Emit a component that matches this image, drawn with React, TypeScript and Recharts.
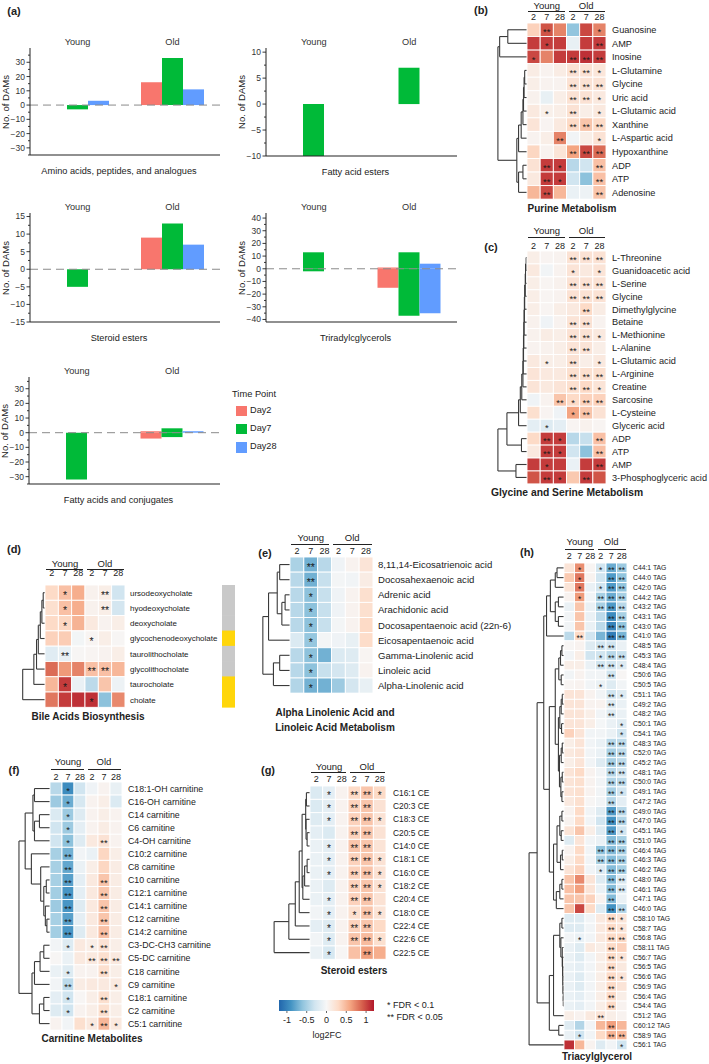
import React from 'react';
import { BarChart, Bar, XAxis, YAxis, ReferenceLine, ScatterChart, Scatter } from 'recharts';

const FONT = '"Liberation Sans", Arial, Helvetica, sans-serif';
const INK = '#222';

// ---------- (a) number of DAMs; order: Young d2, d7, d28, Old d2, d7, d28
const ageGroups = ['Young', 'Old'];
const timePoints = ['Day2', 'Day7', 'Day28'];
const dayKeys = ['2', '7', '28'];
const dayColors = ['#F8766D', '#00BA38', '#619CFF'];

const aminoUp = [0, 0, 3, 16, 33, 11];
const aminoDown = [0, -3, 0, 0, 0, 0];
const faEsterUp = [0, 0, 0, 0, 7, 0];
const faEsterDown = [0, -10, 0, 0, 0, 0];
const steroidUp = [0, 0, 0, 9, 13, 7];
const steroidDown = [0, -5, 0, 0, 0, 0];
const triUp = [0, 13, 0, 1, 13, 4];
const triDown = [0, -2, 0, -15, -37, -35];
const faConjUp = [0, 0, 0, 1, 3, 1];
const faConjDown = [0, -32, 0, -4, -3, 0];

const ticks35 = [-35, -30, -25, -20, -15, -10, -5, 0, 5, 10, 15, 20, 25, 30, 35];
const ticks10 = [-10, -7.5, -5, -2.5, 0, 2.5, 5, 7.5, 10];
const ticks15 = [-15, -12.5, -10, -7.5, -5, -2.5, 0, 2.5, 5, 7.5, 10, 12.5, 15];
const ticks40 = [-40, -35, -30, -25, -20, -15, -10, -5, 0, 5, 10, 15, 20, 25, 30, 35, 40];

// ---------- heatmaps (log2FC, columns Young 2/7/28, Old 2/7/28); sig: 1 = *, 2 = **
const dayLabels = ['2', '7', '28', '2', '7', '28'];
const colTicks = [0.5, 1.5, 2.5, 3.5, 4.5, 5.5];

type Tree = number | [number, Tree, Tree];

const purineRows = ['Guanosine', 'AMP', 'Inosine', 'L-Glutamine', 'Glycine', 'Uric acid', 'L-Glutamic acid', 'Xanthine', 'L-Aspartic acid', 'Hypoxanthine', 'ADP', 'ATP', 'Adenosine'];
const purineFC = [
  [0.35, 0.95, 0.75, -0.6, 1.0, 0.75],
  [1.05, 1.05, 1.05, -0.12, 1.05, 1.05],
  [1.0, 0.75, 1.05, 1.05, 1.1, 1.05],
  [0.12, 0.05, 0.12, 0.22, 0.22, 0.18],
  [0.1, 0.05, 0.05, 0.22, 0.22, 0.22],
  [0.06, -0.12, 0.1, 0.22, 0.22, 0.15],
  [0.15, 0.08, 0.1, 0.22, 0.1, 0.15],
  [0.2, 0.04, 0.15, 0.3, 0.42, 0.3],
  [0.05, 0.1, 0.75, -0.05, 0.1, 0.22],
  [0.32, 0.05, 0.2, 0.6, 1.0, 0.85],
  [0.22, 1.05, 1.05, -0.42, -0.3, 0.45],
  [0.15, 1.05, 1.05, -0.3, -0.62, 0.45],
  [0.5, 1.0, 0.5, -0.1, -0.08, 0.42],
];
const purineSig = ['020001', '010002', '100222', '000221', '000222', '000221', '010201', '000222', '002001', '000222', '021002', '021002', '020002'];
const purineTree: Tree = [1.0, [0.94, [0.66, 0, 1], 2], [0.35, [0.29, [0.2, [0.14, [0.12, [0.1, [0.08, 3, 4], 5], 6], 7], 8], 9], [0.29, [0.14, 10, 11], 12]]];

const glyRows = ['L-Threonine', 'Guanidoacetic acid', 'L-Serine', 'Glycine', 'Dimethylglycine', 'Betaine', 'L-Methionine', 'L-Alanine', 'L-Glutamic acid', 'L-Arginine', 'Creatine', 'Sarcosine', 'L-Cysteine', 'Glyceric acid', 'ADP', 'ATP', 'AMP', '3-Phosphoglyceric acid'];
const glyFC = [
  [0.1, 0.04, 0.05, 0.22, 0.22, 0.22],
  [0.15, -0.05, 0.05, 0.2, 0.15, 0.2],
  [0.1, 0.03, 0.06, 0.22, 0.22, 0.22],
  [0.1, 0.03, 0.05, 0.22, 0.22, 0.22],
  [0.1, 0.03, 0.1, 0.15, 0.3, 0.12],
  [0.06, -0.06, 0.05, 0.2, 0.22, 0.05],
  [0.06, 0.12, 0.1, 0.22, 0.22, 0.15],
  [0.05, 0.06, 0.1, 0.2, 0.2, 0.1],
  [0.15, 0.1, 0.1, 0.22, 0.1, 0.15],
  [0.2, 0.15, 0.15, 0.25, 0.25, 0.25],
  [0.2, 0.15, 0.2, 0.25, 0.3, 0.2],
  [-0.06, 0.05, 0.42, 0.3, 0.35, 0.35],
  [0.25, 0.04, -0.06, 0.6, 0.42, 0.22],
  [-0.15, -0.2, -0.15, 0.03, 0.06, 0.03],
  [0.3, 1.05, 1.05, -0.42, -0.35, 0.45],
  [0.15, 1.05, 1.05, -0.3, -0.62, 0.45],
  [1.05, 1.05, 1.05, -0.1, 1.05, 1.05],
  [0.95, 1.05, 1.05, 0.4, 1.05, 0.95],
];
const glySig = ['000222', '000101', '000222', '000222', '000020', '000220', '000221', '000220', '010201', '000222', '000221', '002122', '000120', '010000', '021002', '021002', '010002', '021020'];
const glyTree: Tree = [1.0, [0.69, [0.29, [0.23, [0.18, [0.14, [0.13, [0.12, [0.11, [0.1, [0.09, [0.08, [0.06, [0.05, [0.03, 0, 1], 2], 3], 4], 5], 6], 7], 8], 9], 10], 11], 12], 13], [0.19, 14, 15]], [0.38, 16, 17]];

const bileRows = ['ursodeoxycholate', 'hyodeoxycholate', 'deoxycholate', 'glycochenodeoxycholate', 'taurolithocholate', 'glycolithocholate', 'taurocholate', 'cholate'];
const bileFC = [
  [0.3, 0.45, 0.55, 0.06, 0.1, -0.3],
  [0.25, 0.45, 0.55, 0.06, 0.1, -0.28],
  [0.3, 0.32, 0.52, 0.15, 0.05, 0.1],
  [0.35, 0.38, -0.04, 0.03, 0.1, 0.02],
  [-0.18, -0.12, 0.02, 0.03, 0.05, 0.1],
  [0.85, 0.65, 0.75, 0.45, 0.45, 0.5],
  [0.5, 1.05, -0.1, -0.4, 0.42, -0.08],
  [0.8, 1.05, 1.1, 1.1, -0.62, 0.72],
];
const bileSig = ['010020', '010020', '010000', '000100', '020000', '000220', '010000', '000100'];
const bileClass = ['grey', 'grey', 'grey', 'yellow', 'grey', 'grey', 'yellow', 'yellow'];
const bileTree: Tree = [1.0, [0.5, [0.38, [0.3, [0.21, [0.14, [0.08, 0, 1], 2], 3], 4], 5], 6], 7];

const linRows = ['8,11,14-Eicosatrienoic acid', 'Docosahexaenoic acid', 'Adrenic acid', 'Arachidonic acid', 'Docosapentaenoic acid (22n-6)', 'Eicosapentaenoic acid', 'Gamma-Linolenic acid', 'Linoleic acid', 'Alpha-Linolenic acid'];
const linFC = [
  [-0.48, -0.72, -0.42, -0.06, 0.05, 0.2],
  [-0.42, -0.72, -0.35, -0.03, -0.05, 0.12],
  [-0.42, -0.62, -0.35, -0.06, 0.05, 0.25],
  [-0.42, -0.62, -0.35, -0.06, 0.05, 0.25],
  [-0.42, -0.62, -0.35, -0.03, 0.05, 0.3],
  [-0.22, -0.58, -0.03, -0.06, -0.12, 0.28],
  [-0.42, -0.62, -0.72, -0.22, -0.2, 0.03],
  [-0.42, -0.62, -0.35, -0.28, -0.2, 0.05],
  [-0.45, -0.72, -0.72, -0.55, -0.28, -0.12],
];
const linSig = ['020000', '020000', '010000', '010000', '010000', '010000', '010000', '010000', '010000'];
const linTree: Tree = [1.0, [0.79, [0.47, [0.38, 0, 1], [0.3, [0.18, 2, 3], 4]], 5], [0.61, [0.38, 6, 7], 8]];

const carRows = ['C18:1-OH carnitine', 'C16-OH carnitine', 'C14 carnitine', 'C6 carnitine', 'C4-OH carnitine', 'C10:2 carnitine', 'C8 carnitine', 'C10 carnitine', 'C12:1 carnitine', 'C14:1 carnitine', 'C12 carnitine', 'C14:2 carnitine', 'C3-DC-CH3 carnitine', 'C5-DC carnitine', 'C18 carnitine', 'C9 carnitine', 'C18:1 carnitine', 'C2 carnitine', 'C5:1 carnitine'];
const carFC = [
  [-0.42, -0.95, -0.3, -0.06, 0.05, -0.12],
  [-0.55, -0.75, -0.25, 0.05, 0.1, -0.22],
  [-0.22, -0.55, -0.2, 0.05, 0.1, 0.05],
  [-0.3, -0.55, -0.15, 0.05, 0.12, 0.05],
  [-0.3, -0.62, -0.2, 0.15, 0.22, 0.05],
  [-0.5, -0.72, -0.05, -0.1, 0.32, 0.1],
  [-0.5, -0.78, -0.1, 0.1, 0.32, 0.12],
  [-0.5, -0.82, -0.15, 0.15, 0.42, 0.12],
  [-0.52, -0.88, -0.15, 0.15, 0.42, 0.12],
  [-0.55, -0.88, -0.2, 0.15, 0.42, 0.12],
  [-0.5, -0.82, -0.15, 0.15, 0.42, 0.12],
  [-0.52, -0.88, -0.2, 0.15, 0.45, 0.12],
  [-0.05, -0.2, 0.15, 0.1, 0.22, 0.1],
  [0.02, -0.1, 0.15, 0.15, 0.25, 0.15],
  [-0.1, -0.2, 0.05, 0.05, 0.25, 0.1],
  [-0.05, -0.4, 0.12, 0.15, 0.15, 0.15],
  [-0.15, -0.3, 0.02, 0.1, 0.25, 0.1],
  [-0.2, -0.3, 0.05, 0.1, 0.25, 0.1],
  [0.05, -0.05, 0.25, 0.15, 0.5, 0.15],
];
const carSig = ['010000', '010000', '010000', '010000', '010020', '020000', '020000', '020020', '020020', '020020', '020020', '020020', '010120', '000222', '010020', '020001', '010020', '010020', '000121'];
const carTree: Tree = [1.0,
  [0.8, [0.55, [0.5, 0, 1], [0.5, [0.34, 2, 3], 4]], [0.6, 5, [0.3, 6, [0.2, [0.12, 7, 8], [0.15, 9, [0.1, 10, 11]]]]]],
  [0.58, [0.5, [0.32, [0.2, 12, 13], 14], 15], [0.34, [0.2, 16, 17], 18]]];

const ceRows = ['C16:1 CE', 'C20:3 CE', 'C18:3 CE', 'C20:5 CE', 'C14:0 CE', 'C18:1 CE', 'C16:0 CE', 'C18:2 CE', 'C20:4 CE', 'C18:0 CE', 'C22:4 CE', 'C22:6 CE', 'C22:5 CE'];
const ceFC = [
  [-0.22, -0.15, 0.05, 0.3, 0.42, 0.3],
  [-0.22, -0.15, 0.05, 0.35, 0.42, 0.22],
  [-0.2, -0.15, 0.05, 0.35, 0.42, 0.22],
  [-0.15, -0.22, 0.05, 0.35, 0.42, 0.22],
  [-0.1, -0.15, 0.05, 0.42, 0.42, 0.2],
  [-0.1, -0.15, 0.05, 0.35, 0.42, 0.22],
  [-0.1, -0.15, 0.05, 0.35, 0.42, 0.22],
  [-0.1, -0.2, 0.05, 0.35, 0.42, 0.22],
  [-0.1, -0.15, 0.05, 0.35, 0.42, 0.22],
  [-0.05, -0.15, 0.05, 0.25, 0.42, 0.2],
  [-0.15, -0.2, 0.05, 0.35, 0.42, 0.3],
  [-0.05, -0.2, 0.05, 0.42, 0.48, 0.25],
  [-0.1, -0.25, 0.02, 0.45, 0.62, 0.55],
];
const ceSig = ['010221', '010220', '010221', '000220', '010220', '010221', '010221', '000221', '010220', '010121', '010220', '010221', '010020'];
const ceTree: Tree = [1.0, [0.59, [0.41, [0.3, [0.22, [0.12, [0.1, 0, 1], [0.11, 2, [0.08, 3, 4]]], [0.2, [0.15, [0.08, 5, 6], 7], 8]], 9], 10], 11], 12];

const tagRows = ['C44:1 TAG', 'C44:0 TAG', 'C42:0 TAG', 'C44:2 TAG', 'C43:2 TAG', 'C43:1 TAG', 'C43:0 TAG', 'C41:0 TAG',
  'C48:5 TAG', 'C45:3 TAG', 'C48:4 TAG', 'C50:6 TAG', 'C50:5 TAG', 'C51:1 TAG', 'C49:2 TAG', 'C48:2 TAG', 'C50:1 TAG', 'C54:1 TAG',
  'C48:3 TAG', 'C52:0 TAG', 'C45:2 TAG', 'C48:1 TAG', 'C50:0 TAG', 'C49:1 TAG', 'C47:2 TAG', 'C49:0 TAG', 'C47:0 TAG', 'C45:1 TAG',
  'C51:0 TAG', 'C46:4 TAG', 'C46:3 TAG', 'C46:2 TAG', 'C48:0 TAG', 'C46:1 TAG', 'C47:1 TAG', 'C46:0 TAG', 'C58:10 TAG', 'C58:7 TAG',
  'C56:8 TAG', 'C58:11 TAG', 'C56:7 TAG', 'C56:5 TAG', 'C56:6 TAG', 'C56:9 TAG', 'C56:4 TAG', 'C54:4 TAG', 'C51:2 TAG', 'C60:12 TAG',
  'C58:9 TAG', 'C56:1 TAG'];
const tagFC = [
  [0.2, 0.7, 0.03, -0.3, -0.75, -0.55],
  [0.4, 0.8, 0.05, -0.3, -0.85, -0.6],
  [0.2, 0.8, -0.1, -0.3, -0.85, -0.6],
  [0.05, 0.65, -0.05, -0.5, -0.75, -0.5],
  [-0.1, 0.42, -0.1, -0.5, -0.85, -0.42],
  [-0.05, 0.42, -0.1, -0.4, -0.95, -0.5],
  [-0.05, 0.42, -0.1, -0.4, -1.0, -0.6],
  [-0.4, 0.3, -0.3, -0.7, -1.05, -0.7],
  [0.02, 0.05, -0.2, -0.3, -0.3, -0.1],
  [-0.05, 0.1, -0.3, -0.3, -0.42, -0.35],
  [0.1, 0.1, -0.1, -0.3, -0.3, -0.2],
  [-0.05, 0.05, -0.05, -0.05, -0.3, 0.02],
  [0.03, 0.05, -0.05, -0.1, -0.2, -0.05],
  [0.2, 0.2, 0.05, -0.05, -0.3, -0.2],
  [0.2, 0.2, 0.05, 0.05, -0.2, -0.1],
  [0.2, 0.2, 0.1, -0.05, -0.2, -0.1],
  [0.2, 0.2, 0.1, -0.02, -0.1, -0.2],
  [0.35, 0.2, -0.05, -0.05, -0.1, -0.3],
  [0.1, 0.2, -0.05, -0.1, -0.42, -0.4],
  [0.15, 0.2, -0.05, -0.1, -0.5, -0.4],
  [0.1, 0.2, -0.05, -0.2, -0.5, -0.4],
  [0.2, 0.3, 0.05, -0.05, -0.42, -0.3],
  [0.2, 0.25, 0.05, -0.05, -0.45, -0.4],
  [0.2, 0.25, 0.05, -0.05, -0.5, -0.3],
  [0.15, 0.25, 0.02, -0.05, -0.42, -0.15],
  [0.05, 0.3, -0.05, -0.2, -0.85, -0.42],
  [0.05, 0.3, -0.05, -0.3, -0.9, -0.45],
  [0.2, 0.42, 0.1, -0.2, -0.85, -0.3],
  [-0.2, 0.2, -0.05, -0.1, -0.65, -0.5],
  [0.05, 0.3, -0.05, -0.6, -0.65, -0.5],
  [0.1, 0.3, -0.05, -0.5, -0.65, -0.5],
  [0.2, 0.35, -0.05, -0.2, -0.65, -0.5],
  [0.42, 0.72, 0.2, -0.2, -0.65, -0.22],
  [0.45, 0.62, 0.2, -0.1, -0.65, -0.22],
  [0.42, 0.42, 0.35, 0.05, -0.65, -0.1],
  [0.42, 1.0, 0.3, -0.2, -0.9, -0.42],
  [-0.2, -0.2, -0.05, 0.15, 0.3, 0.2],
  [-0.2, -0.2, -0.05, 0.15, 0.3, 0.2],
  [-0.05, -0.1, -0.05, 0.15, 0.3, 0.3],
  [-0.1, -0.2, 0.15, 0.1, 0.3, 0.35],
  [-0.1, -0.2, -0.05, 0.1, 0.3, 0.2],
  [-0.1, -0.15, -0.05, 0.1, 0.3, 0.15],
  [-0.1, -0.2, -0.05, 0.1, 0.3, 0.2],
  [-0.1, -0.2, -0.05, 0.1, 0.3, 0.2],
  [-0.1, -0.15, -0.05, 0.1, 0.3, 0.1],
  [-0.1, -0.15, -0.05, 0.1, 0.3, 0.05],
  [0.1, 0.05, 0.15, 0.2, 0.1, 0.05],
  [-0.2, -0.45, -0.05, 0.5, 0.62, 0.5],
  [-0.1, -0.3, -0.05, 0.3, 0.52, 0.5],
  [1.1, 0.5, 0.05, -0.2, -0.05, -0.3],
];
const tagSig = ['010122', '010022', '010122', '010222', '000222', '000022', '000022', '020022',
  '000220', '000122', '000221', '000020', '000100', '000021', '000020', '000020', '000001', '000001',
  '000022', '000022', '000022', '000022', '000022', '000021', '000020', '000022', '000022', '000021',
  '000022', '000222', '000222', '000122', '000022', '000022', '000020', '000022', '000021', '000021',
  '010022', '000020', '000021', '000020', '000021', '000020', '000020', '000020', '000200', '000020',
  '010022', '000001'];
const tagTree: Tree = [1.0,
  [0.77,
    [0.58,
      [0.5, [0.39, [0.25, [0.2, 0, 1], 2], [0.25, [0.16, 3, 4], [0.16, 5, 6]]], 7],
      [0.42,
        [0.25, [0.15, [0.1, [0.06, 8, 9], 10], [0.08, 11, 12]],
          [0.16, [0.12, [0.08, [0.05, 13, 14], 15], [0.07, 16, 17]], [0.13, [0.08, [0.05, 18, 19], 20], [0.09, [0.05, 21, 22], [0.06, 23, 24]]]]],
        [0.3, [0.2, [0.12, [0.06, 25, 26], [0.08, 27, 28]], [0.1, [0.05, 29, 30], 31]], [0.22, [0.12, [0.06, 32, 33], 34], 35]]]],
    [0.42, [0.3, [0.12, [0.06, 36, 37], [0.09, 38, [0.05, 39, [0.04, 40, [0.03, 41, [0.03, 42, [0.02, 43, [0.02, 44, 45]]]]]]]], 46], [0.15, 47, 48]]],
  49];

// colour scale (log2FC)
const heatStops = [-1.2, -0.9, -0.6, -0.3, 0, 0.3, 0.6, 0.9, 1.2];
const heatColors = ['#2166AC', '#4393C3', '#92C5DE', '#D1E5F0', '#F7F7F7', '#FDDBC7', '#F4A582', '#D6604D', '#B2182B'];
const legendTicks = [-1, -0.5, 0, 0.5, 1];
const keyBar = [{ x: 0, y: 0.5 }];
const classColors: Record<string, string> = { grey: '#C9C9C9', yellow: '#FFD60A' };

const hex = (c: string) => [1, 3, 5].map((i) => parseInt(c.slice(i, i + 2), 16));
function heat(v: number) {
  const x = Math.max(-1.2, Math.min(1.2, v));
  let i = 0;
  while (i < heatStops.length - 2 && x > heatStops[i + 1]) i++;
  const t = (x - heatStops[i]) / (heatStops[i + 1] - heatStops[i]);
  const a = hex(heatColors[i]);
  const b = hex(heatColors[i + 1]);
  return `rgb(${a.map((c, k) => Math.round(c + (b[k] - c) * t)).join(',')})`;
}

const minus = (v: number) => (v < 0 ? '\u2212' + Math.abs(v) : String(v));

const Txt = ({ x, y, size = 9, bold = false, anchor = 'middle', children }: any) => (
  <div
    style={{
      position: 'absolute', left: x, top: y, whiteSpace: 'nowrap', lineHeight: 1, color: INK,
      fontSize: size, fontWeight: bold ? 700 : 400,
      transform: `translate(${anchor === 'middle' ? '-50%' : '0'}, -50%)`,
    }}
  >
    {children}
  </div>
);

// ---------- bar panel
const damTick = (major: number) => (p: any) => {
  const v = p.payload.value;
  const ax = p.x + 4;
  const isMajor = Math.abs(v % major) < 1e-6;
  return (
    <g>
      <line x1={ax - (isMajor ? 3.5 : 2)} x2={ax} y1={p.y} y2={p.y} stroke={INK} strokeWidth={0.9} />
      {isMajor && (
        <text x={ax - 5} y={p.y} dy="0.35em" textAnchor="end" fontSize={8.5} fill="#333">{minus(v)}</text>
      )}
    </g>
  );
};

function DamChart({ x, y, w, h, domain, ticks, major, up, down, title, dashed = true }: any) {
  const yw = 24;
  const xh = 14;
  const pad = 7;
  const rows = ageGroups.map((g, gi) => {
    const r: any = { g };
    dayKeys.forEach((k, di) => {
      r['u' + k] = up[gi * 3 + di];
      r['n' + k] = down[gi * 3 + di];
    });
    return r;
  });
  return (
    <>
      <div style={{ position: 'absolute', left: x - yw, top: y - xh }}>
        <BarChart width={w + yw} height={h + xh + pad} data={rows} margin={{ top: 0, right: 0, bottom: pad, left: 0 }}
          stackOffset="sign" barGap={0} barCategoryGap={16}>
          <XAxis dataKey="g" orientation="top" height={xh} axisLine={false} tickLine={false} tickSize={0} tickMargin={3}
            tick={{ fontSize: 9.2, fill: '#333' }} />
          <YAxis width={yw} domain={domain} ticks={ticks} interval={0} allowDataOverflow axisLine={{ stroke: INK }}
            tickLine={false} tickSize={3} tickMargin={1} tick={damTick(major)} />
          {dashed && <ReferenceLine y={0} stroke="#8a8a8a" strokeDasharray="8 5" />}
          <ReferenceLine y={domain[0]} stroke={INK} strokeWidth={1.2} />
          {dayKeys.map((k, di) => [
            <Bar key={'u' + k} dataKey={'u' + k} stackId={k} fill={dayColors[di]} isAnimationActive={false} />,
            <Bar key={'n' + k} dataKey={'n' + k} stackId={k} fill={dayColors[di]} isAnimationActive={false} />,
          ])}
        </BarChart>
      </div>
      <Txt x={x - 24} y={y + h / 2} size={9.5}>
        <div style={{ transform: 'rotate(-90deg)' }}>No. of DAMs</div>
      </Txt>
      <Txt x={x + w / 2 - 6} y={y + h + 17} size={9.2}>{title}</Txt>
    </>
  );
}

// ---------- heatmap panel
function layoutTree(t: Tree, scale: number, segs: number[][]): { x: number; y: number } {
  if (typeof t === 'number') return { x: 0, y: t + 0.5 };
  const [hgt, a, b] = t;
  const A = layoutTree(a, scale, segs);
  const B = layoutTree(b, scale, segs);
  const x = -hgt * scale;
  segs.push([A.x, A.y, x, A.y], [B.x, B.y, x, B.y], [x, A.y, x, B.y]);
  return { x, y: (A.y + B.y) / 2 };
}

const cellShape = (cw: number, ch: number, sfs: number) => (p: any) => {
  const { cx, cy, payload } = p;
  return (
    <g>
      <rect x={cx - cw / 2} y={cy - ch / 2} width={cw} height={ch} fill={heat(payload.v)} stroke="#fff" strokeWidth={0.9} />
      {payload.s > 0 && (
        <text x={cx} y={cy + sfs * 0.6} textAnchor="middle" fontSize={sfs} fill="#1a1a1a">{'*'.repeat(payload.s)}</text>
      )}
    </g>
  );
};

const rowTick = (rows: string[], fs: number) => (p: any) => (
  <text x={p.x} y={p.y} dy="0.36em" textAnchor="start" fontSize={fs} fill={INK}>
    {rows[Math.floor(p.payload.value)]}
  </text>
);

function Heatmap({ rows, fc, sig, tree, x0, y0, cw, ch, dw, lw, fs, sfs, gap, numY, grpY, lineY }: any) {
  const n = rows.length;
  const hh = 18;
  const units = dw / cw;
  const cells: any[] = [];
  rows.forEach((_: string, i: number) =>
    fc[i].forEach((v: number, j: number) => cells.push({ x: j + 0.5, y: i + 0.5, v, s: Number(sig[i][j]) })),
  );
  const segs: number[][] = [];
  layoutTree(tree, units * 0.97, segs);
  const numBase = numY + 3.3;
  return (
    <>
      <div style={{ position: 'absolute', left: x0 - dw, top: y0 - hh }}>
        <ScatterChart width={dw + 6 * cw + lw} height={hh + n * ch + 2} margin={{ top: 0, right: 0, bottom: 2, left: 0 }}>
          <XAxis type="number" dataKey="x" orientation="top" height={hh} domain={[-units, 6]} allowDataOverflow
            ticks={colTicks} interval={0} tickFormatter={(v: number) => dayLabels[Math.floor(v)]}
            axisLine={false} tickLine={false} tickSize={0} tickMargin={y0 - numBase} tick={{ fontSize: 9, fill: INK }} />
          <YAxis type="number" dataKey="y" orientation="right" width={lw} domain={[0, n]} reversed allowDataOverflow
            ticks={rows.map((_: string, i: number) => i + 0.5)} interval={0}
            axisLine={false} tickLine={false} tickSize={0} tickMargin={gap} tick={rowTick(rows, fs)} />
          {segs.map((s, i) => (
            <ReferenceLine key={i} segment={[{ x: s[0], y: s[1] }, { x: s[2], y: s[3] }]} stroke="#3a3a3a"
              strokeWidth={1.1} ifOverflow="visible" />
          ))}
          <Scatter data={cells} shape={cellShape(cw, ch, sfs)} isAnimationActive={false} />
        </ScatterChart>
      </div>
      <Txt x={x0 + 1.5 * cw} y={grpY} size={9.5}>Young</Txt>
      <Txt x={x0 + 4.5 * cw} y={grpY} size={9.5}>Old</Txt>
      <div style={{ position: 'absolute', left: x0 + 1, top: lineY, width: 3 * cw - 3, borderTop: `1px solid ${INK}` }} />
      <div style={{ position: 'absolute', left: x0 + 3 * cw + 2, top: lineY, width: 3 * cw - 3, borderTop: `1px solid ${INK}` }} />
    </>
  );
}

function ClassBar({ x, y, w, ch }: any) {
  const data = bileClass.map((c, i) => ({ x: 0.5, y: i + 0.5, c }));
  return (
    <div style={{ position: 'absolute', left: x, top: y }}>
      <ScatterChart width={w} height={ch * bileClass.length} margin={{ top: 0, right: 0, bottom: 0, left: 0 }}>
        <XAxis type="number" dataKey="x" domain={[0, 1]} hide />
        <YAxis type="number" dataKey="y" domain={[0, bileClass.length]} reversed hide />
        <Scatter data={data} isAnimationActive={false}
          shape={(p: any) => (
            <rect x={p.cx - w / 2} y={p.cy - ch / 2 - 0.3} width={w} height={ch + 0.6} fill={classColors[p.payload.c]} />
          )} />
      </ScatterChart>
    </div>
  );
}

function ColorKey() {
  const bw = 95;
  const bh = 11;
  return (
    <>
      <div style={{ position: 'absolute', left: 269, top: 1000 }}>
        <ScatterChart width={bw + 20} height={bh + 15} margin={{ top: 0, right: 10, bottom: 0, left: 10 }}>
          <XAxis type="number" dataKey="x" domain={[-1.2, 1.2]} allowDataOverflow ticks={legendTicks} interval={0}
            height={15} axisLine={false} tickLine={{ stroke: '#666' }} tickSize={2} tickMargin={4}
            tick={{ fontSize: 9, fill: INK }} tickFormatter={(v: number) => String(v)} />
          <YAxis type="number" dataKey="y" domain={[0, 1]} hide />
          <Scatter data={keyBar} isAnimationActive={false}
            shape={(p: any) => (
              <g>
                <defs>
                  <linearGradient id="fcGrad" x1="0" y1="0" x2="1" y2="0">
                    {heatStops.map((s, i) => (
                      <stop key={i} offset={`${((s + 1.2) / 2.4) * 100}%`} stopColor={heatColors[i]} />
                    ))}
                  </linearGradient>
                </defs>
                <rect x={p.cx - bw / 2} y={p.cy - bh / 2} width={bw} height={bh} fill="url(#fcGrad)" />
              </g>
            )} />
        </ScatterChart>
      </div>
      <Txt x={327} y={1035} size={9}>log2FC</Txt>
      <Txt x={387} y={1005} size={9} anchor="start">{'*  FDR < 0.1'}</Txt>
      <Txt x={387} y={1017} size={9} anchor="start">{'** FDR < 0.05'}</Txt>
    </>
  );
}

export default function App() {
  return (
    <div style={{ position: 'absolute', left: 0, top: 0, width: 709, height: 1064, background: '#fff', fontFamily: FONT, overflow: 'hidden' }}>
      {/* (a) */}
      <Txt x={14} y={11} size={11} bold>(a)</Txt>
      <DamChart x={30} y={48} w={190} h={107} domain={[-35, 40]} ticks={ticks35} major={10} up={aminoUp} down={aminoDown}
        title="Amino acids, peptides, and analogues" />
      <DamChart x={266} y={48} w={191} h={108} domain={[-10, 10.8]} ticks={ticks10} major={5} up={faEsterUp} down={faEsterDown}
        title="Fatty acid esters" dashed={false} />
      <DamChart x={30} y={213} w={190} h={109} domain={[-15, 16]} ticks={ticks15} major={5} up={steroidUp} down={steroidDown}
        title="Steroid esters" />
      <DamChart x={266} y={213} w={191} h={109} domain={[-42, 44]} ticks={ticks40} major={10} up={triUp} down={triDown}
        title="Triradylcglycerols" />
      <DamChart x={29} y={377} w={191} h={107} domain={[-35, 38]} ticks={ticks35} major={10} up={faConjUp} down={faConjDown}
        title="Fatty acids and conjugates" />
      <Txt x={232} y={395} size={9.3} anchor="start">Time Point</Txt>
      {timePoints.map((t, i) => (
        <React.Fragment key={t}>
          <div style={{ position: 'absolute', left: 236, top: 405.5 + i * 18.3, width: 10.5, height: 10.5, background: dayColors[i] }} />
          <Txt x={250} y={410.7 + i * 18.3} size={9.2} anchor="start">{t}</Txt>
        </React.Fragment>
      ))}

      {/* (b) */}
      <Txt x={481} y={10} size={11} bold>(b)</Txt>
      <Heatmap rows={purineRows} fc={purineFC} sig={purineSig} tree={purineTree} x0={527} y0={23.2} cw={13.17} ch={13.55}
        dw={30} lw={103} fs={9.2} sfs={9.5} gap={6} numY={16.7} grpY={5.5} lineY={11} />
      <Txt x={572} y={209} size={10} bold>Purine Metabolism</Txt>

      {/* (c) */}
      <Txt x={491} y={247} size={11} bold>(c)</Txt>
      <Heatmap rows={glyRows} fc={glyFC} sig={glySig} tree={glyTree} x0={527} y0={250.5} cw={13.17} ch={12.94}
        dw={30} lw={103} fs={9.2} sfs={9.5} gap={6} numY={245} grpY={231} lineY={237} />
      <Txt x={567} y={493} size={10.3} bold>Glycine and Serine Metabolism</Txt>

      {/* (d) */}
      <Txt x={14} y={549} size={11} bold>(d)</Txt>
      <Heatmap rows={bileRows} fc={bileFC} sig={bileSig} tree={bileTree} x0={45} y0={585.4} cw={13.33} ch={15.29}
        dw={23} lw={96} fs={8} sfs={10.5} gap={5} numY={573.3} grpY={564} lineY={569} />
      <ClassBar x={222} y={585.4} w={13} ch={15.29} />
      <Txt x={88} y={717} size={10} bold>Bile Acids Biosynthesis</Txt>

      {/* (e) */}
      <Txt x={265} y={553} size={11} bold>(e)</Txt>
      <Heatmap rows={linRows} fc={linFC} sig={linSig} tree={linTree} x0={290} y0={557.4} cw={13.83} ch={15.125}
        dw={28} lw={148} fs={9.6} sfs={10.5} gap={5} numY={551} grpY={538} lineY={544} />
      <Txt x={335} y={713} size={10} bold>Alpha Linolenic Acid and</Txt>
      <Txt x={335} y={728} size={10} bold>Linoleic Acid Metabolism</Txt>

      {/* (f) */}
      <Txt x={14} y={770} size={11} bold>(f)</Txt>
      <Heatmap rows={carRows} fc={carFC} sig={carSig} tree={carTree} x0={50} y0={781.5} cw={12} ch={13.06}
        dw={32} lw={98} fs={8.8} sfs={9.5} gap={6} numY={776} grpY={762} lineY={769} />
      <Txt x={92} y={1039} size={10} bold>Carnitine Metabolites</Txt>

      {/* (g) */}
      <Txt x={268} y={770} size={11} bold>(g)</Txt>
      <Heatmap rows={ceRows} fc={ceFC} sig={ceSig} tree={ceTree} x0={310} y0={786.3} cw={12.67} ch={13.33}
        dw={37} lw={56} fs={8.4} sfs={10} gap={7} numY={779.3} grpY={767} lineY={772} />
      <Txt x={354} y={971} size={10} bold>Steroid esters</Txt>

      {/* (h) */}
      <Txt x={527} y={552} size={11} bold>(h)</Txt>
      <Heatmap rows={tagRows} fc={tagFC} sig={tagSig} tree={tagTree} x0={564} y0={563.1} cw={10.5} ch={9.735}
        dw={36} lw={60} fs={6.8} sfs={8.5} gap={6} numY={556} grpY={542} lineY={549} />
      <Txt x={597} y={1057} size={10} bold>Triacylglycerol</Txt>

      <ColorKey />
    </div>
  );
}
